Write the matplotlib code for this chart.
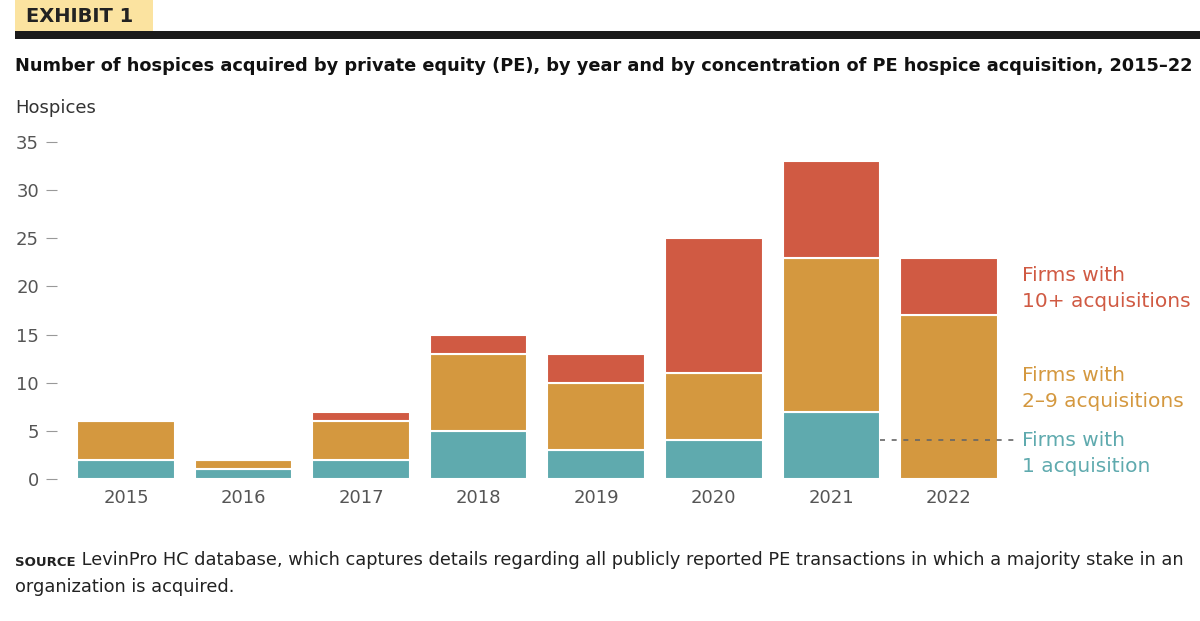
import numpy as np
import matplotlib.pyplot as plt
from matplotlib.patches import Rectangle

# dados
years = ["2015", "2016", "2017", "2018", "2019", "2020", "2021", "2022"]
one_acq = [2, 1, 2, 5, 3, 4, 7, 0]
two_nine = [4, 1, 4, 8, 7, 7, 16, 17]
ten_plus = [0, 0, 1, 2, 3, 14, 10, 6]
y_ticks = [0, 5, 10, 15, 20, 25, 30, 35]

c_teal = "#5faaae"
c_orange = "#d4983f"
c_red = "#d05a43"
grey = "#555555"

fig = plt.figure(figsize=(12, 6.21), dpi=100)
W, H = 1200, 621

# cabeçalho
fig.patches.append(Rectangle((15 / W, 1 - 31 / H), 138 / W, 31 / H, transform=fig.transFigure,
                             facecolor="#fbe3a0", edgecolor="none"))
fig.patches.append(Rectangle((15 / W, 1 - 39 / H), 1185 / W, 8 / H, transform=fig.transFigure,
                             facecolor="#1a1a1a", edgecolor="none"))
fig.text(26 / W, 1 - 16 / H, "EXHIBIT 1", fontsize=14, fontweight="heavy", color="#222222",
         va="center", ha="left")
fig.text(15 / W, 1 - 66 / H,
         "Number of hospices acquired by private equity (PE), by year and by concentration of PE hospice acquisition, 2015–22",
         fontsize=12.75, fontweight="bold", color="#111111", va="center", ha="left")
fig.text(15 / W, 1 - 108 / H, "Hospices", fontsize=13, color="#333333", va="center", ha="left")

# eixo principal
ax = fig.add_axes([57 / W, 1 - 479 / H, 953 / W, 337 / H])
x = np.arange(len(years))
one_acq = np.array(one_acq)
two_nine = np.array(two_nine)
ten_plus = np.array(ten_plus)
bw = 0.83
ax.bar(x, one_acq, bw, color=c_teal, edgecolor="white", linewidth=1.5)
ax.bar(x, two_nine, bw, bottom=one_acq, color=c_orange, edgecolor="white", linewidth=1.5)
ax.bar(x, ten_plus, bw, bottom=one_acq + two_nine, color=c_red, edgecolor="white", linewidth=1.5)

ax.set_xlim(-0.587, 7.52)
ax.set_ylim(0, 35)
for s in ax.spines.values():
    s.set_visible(False)
ax.set_yticks(y_ticks)
ax.set_yticklabels([str(v) for v in y_ticks])
ax.tick_params(axis="y", length=8, width=0.8, color="#999999", pad=5, labelsize=13, labelcolor=grey)
ax.set_xticks(x)
ax.set_xticklabels(years)
ax.tick_params(axis="x", length=0, pad=7, labelsize=13, labelcolor=grey)

# rótulos das séries
lx = 7.62
ax.text(lx, 19.8, "Firms with\n10+ acquisitions", color=c_red, fontsize=14.5, va="center", ha="left",
        linespacing=1.45, clip_on=False)
ax.text(lx, 9.4, "Firms with\n2–9 acquisitions", color=c_orange, fontsize=14.5, va="center", ha="left",
        linespacing=1.45, clip_on=False)
ax.text(lx, 4.0, "Firms with", color=c_teal, fontsize=14.5, va="center", ha="left", clip_on=False)
ax.text(lx, 1.35, "1 acquisition", color=c_teal, fontsize=14.5, va="center", ha="left", clip_on=False)
ax.plot([6 + bw / 2, lx - 0.02], [4, 4], ls=(0, (3, 4)), color="#666666", lw=1.2, clip_on=False)

# fonte
t = fig.text(15 / W, 1 - 566 / H, "SOURCE", fontsize=9.5, fontweight="heavy", color="#222222",
             va="baseline", ha="left")
ann = plt.annotate(" LevinPro HC database, which captures details regarding all publicly reported PE transactions in which a majority stake in an",
                   xy=(1, 0), xycoords=t, va="bottom", ha="left", fontsize=12.8, color="#222222",
                   annotation_clip=False)
fig.text(15 / W, 1 - 592 / H, "organization is acquired.", fontsize=12.8, color="#222222",
         va="baseline", ha="left")

fig.savefig("out.png", dpi=100)
